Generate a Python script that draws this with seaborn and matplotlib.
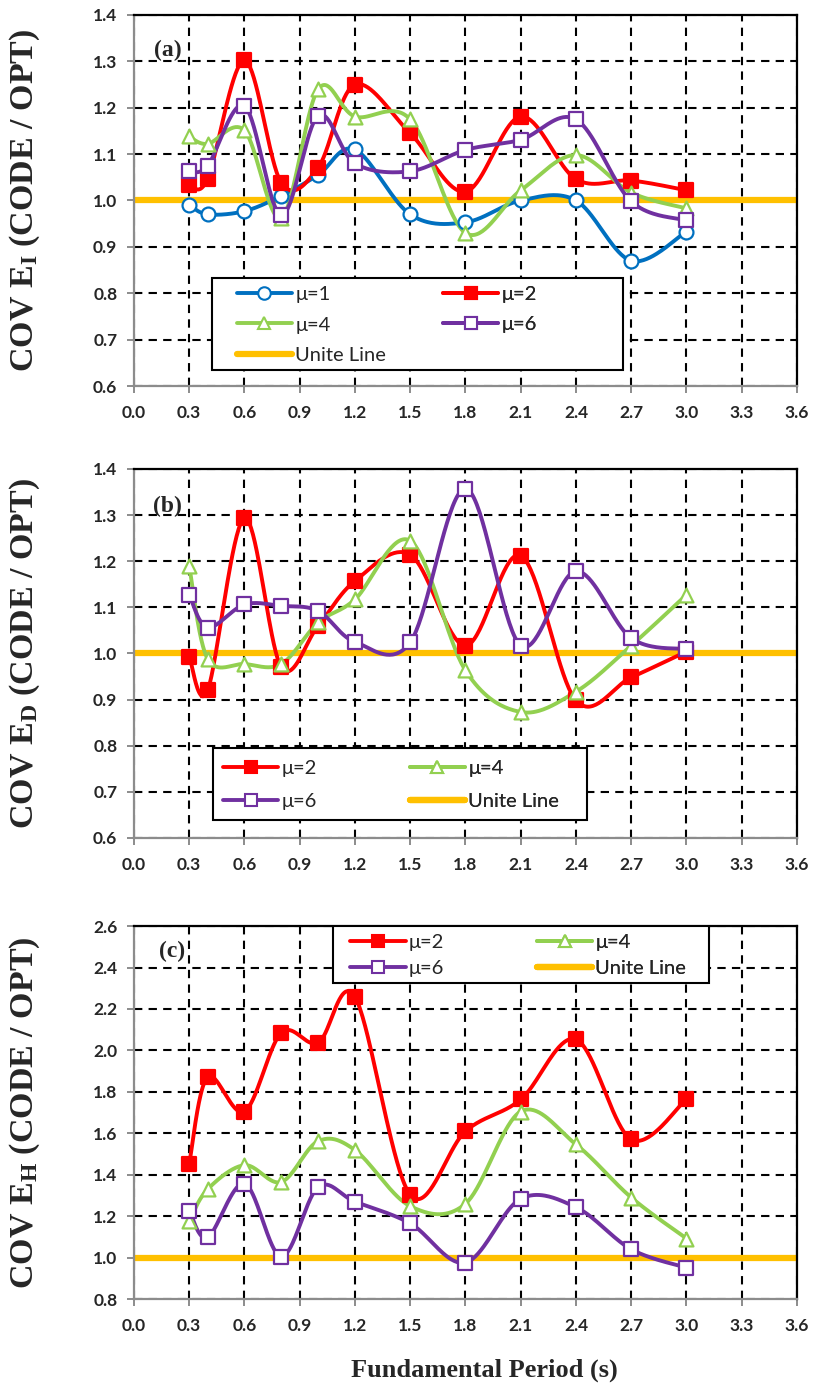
import numpy as np
import pandas as pd
import matplotlib
matplotlib.use("Agg")
import matplotlib.pyplot as plt
import seaborn as sns
from matplotlib.lines import Line2D
from matplotlib.patches import Rectangle

# fundamental period (s)
period = [0.3, 0.4, 0.6, 0.8, 1.0, 1.2, 1.5, 1.8, 2.1, 2.4, 2.7, 3.0]

# (a) COV E_I
ei_mu1 = [0.99, 0.97, 0.977, 1.01, 1.055, 1.11, 0.97, 0.953, 1.0, 1.0, 0.87, 0.933]
ei_mu2 = [1.034, 1.047, 1.302, 1.038, 1.071, 1.25, 1.145, 1.019, 1.181, 1.046, 1.043, 1.022]
ei_mu4 = [1.138, 1.122, 1.151, 0.962, 1.24, 1.181, 1.175, 0.93, 1.022, 1.098, 1.017, 0.983]
ei_mu6 = [1.063, 1.075, 1.204, 0.968, 1.183, 1.08, 1.063, 1.109, 1.131, 1.175, 0.998, 0.957]

# (b) COV E_D
ed_mu2 = [0.993, 0.92, 1.293, 0.97, 1.06, 1.157, 1.214, 1.017, 1.212, 0.898, 0.948, 1.004]
ed_mu4 = [1.189, 0.988, 0.977, 0.977, 1.067, 1.117, 1.244, 0.963, 0.873, 0.917, 1.017, 1.127]
ed_mu6 = [1.127, 1.056, 1.106, 1.103, 1.092, 1.025, 1.024, 1.357, 1.017, 1.178, 1.033, 1.009]

# (c) COV E_H
eh_mu2 = [1.454, 1.872, 1.705, 2.085, 2.037, 2.258, 1.303, 1.61, 1.763, 2.053, 1.57, 1.765]
eh_mu4 = [1.178, 1.33, 1.446, 1.365, 1.562, 1.519, 1.248, 1.26, 1.705, 1.546, 1.29, 1.092]
eh_mu6 = [1.227, 1.097, 1.357, 1.005, 1.34, 1.27, 1.165, 0.976, 1.284, 1.243, 1.04, 0.951]

unit_value = 1.0

x_ticks = [0.0, 0.3, 0.6, 0.9, 1.2, 1.5, 1.8, 2.1, 2.4, 2.7, 3.0, 3.3, 3.6]

styles = {
    "μ=1": dict(color="#0070C0", marker="o", face="white"),
    "μ=2": dict(color="#FF0000", marker="s", face="#FF0000"),
    "μ=4": dict(color="#92D050", marker="^", face="white"),
    "μ=6": dict(color="#7030A0", marker="s", face="white"),
}
unit_color = "#FFC000"

sns.set_style("white")
plt.rcParams["font.family"] = ["Lato", "DejaVu Sans"]
plt.rcParams["mathtext.fontset"] = "custom"
plt.rcParams["mathtext.rm"] = "Liberation Serif:bold"
plt.rcParams["mathtext.it"] = "Liberation Serif:bold"
plt.rcParams["mathtext.bf"] = "Liberation Serif:bold"

LEG_FS = 14.5


def smooth(x, y, n=40):
    # excel-like smoothed line (catmull-rom bezier)
    x = np.asarray(x, float)
    y = np.asarray(y, float)
    px = np.r_[x[0], x, x[-1]]
    py = np.r_[y[0], y, y[-1]]
    t = np.linspace(0, 1, n)
    xs, ys = [], []
    for i in range(1, len(px) - 2):
        p0 = np.array([px[i], py[i]])
        p3 = np.array([px[i + 1], py[i + 1]])
        c1 = p0 + (p3 - np.array([px[i - 1], py[i - 1]])) / 6
        c2 = p3 - (np.array([px[i + 2], py[i + 2]]) - p0) / 6
        b = ((1 - t) ** 3)[:, None] * p0 + (3 * (1 - t) ** 2 * t)[:, None] * c1 \
            + (3 * (1 - t) * t ** 2)[:, None] * c2 + (t ** 3)[:, None] * p3
        xs.extend(b[:, 0])
        ys.extend(b[:, 1])
    return pd.DataFrame({"x": xs, "y": ys})


def handle(name):
    if name == "Unite Line":
        return Line2D([], [], color=unit_color, lw=4.5, label=name)
    st = styles[name]
    return Line2D([], [], color=st["color"], lw=2.8, marker=st["marker"],
                  markersize=9, markerfacecolor=st["face"],
                  markeredgecolor=st["color"], markeredgewidth=1.5, label=name)


def add_legend(ax, box, columns, col_x, row1_y, row_frac, spacing):
    ax.add_patch(Rectangle((box[0], box[1]), box[2], box[3], transform=ax.transAxes,
                           facecolor="white", edgecolor="black", lw=1.5, zorder=6))
    for names, x in zip(columns, col_x):
        yc = row1_y - (len(names) - 1) / 2 * row_frac
        leg = ax.legend(handles=[handle(n) for n in names], loc="center left",
                        bbox_to_anchor=(x, yc), frameon=False, fontsize=LEG_FS,
                        handlelength=2.75, handletextpad=0.15, borderpad=0,
                        borderaxespad=0, labelspacing=spacing)
        leg.set_zorder(7)
        ax.add_artist(leg)


def draw_panel(ax, series, ylim, yticks, ylabel, tag, tag_pos):
    ax.set_xlim(0, 3.6)
    ax.set_ylim(*ylim)
    ax.set_xticks(x_ticks)
    ax.set_yticks(yticks)
    ax.set_xticklabels([f"{v:.1f}" for v in x_ticks])
    ax.set_yticklabels([f"{v:.1f}" for v in yticks])
    ax.grid(True, color="black", linestyle=(0, (4, 3)), linewidth=1.5)
    ax.set_axisbelow(True)

    ax.axhline(unit_value, color=unit_color, lw=4.5, zorder=2)
    for name, vals in series.items():
        st = styles[name]
        curve = smooth(period, vals)
        sns.lineplot(data=curve, x="x", y="y", ax=ax, color=st["color"], lw=2.8,
                     sort=False, estimator=None, zorder=3)
        sns.scatterplot(x=period, y=vals, ax=ax, marker=st["marker"], s=100,
                        facecolor=st["face"], edgecolor=st["color"], linewidth=1.6,
                        zorder=4)
    ax.set_xlabel("")
    ax.set_ylabel(ylabel, fontsize=24.5, family="Liberation Serif", fontweight="bold")
    ax.yaxis.set_label_coords(-0.139, 0.5)

    for side in ["left", "bottom"]:
        ax.spines[side].set_color("#8C8C8C")
        ax.spines[side].set_linewidth(1.6)
    for side in ["top", "right"]:
        ax.spines[side].set_color("black")
        ax.spines[side].set_linewidth(1.6)
    ax.tick_params(axis="both", which="major", direction="out", length=5, width=1.4,
                   color="#8C8C8C", labelsize=12.5, left=True, bottom=True)
    ax.tick_params(axis="x", pad=9)
    ax.tick_params(axis="y", pad=7)
    for lab in ax.get_xticklabels() + ax.get_yticklabels():
        lab.set_fontweight("bold")

    ax.text(tag_pos[0], tag_pos[1], tag, transform=ax.transAxes, fontsize=17,
            fontweight="bold", family="Liberation Serif", ha="center", va="center",
            zorder=8)


fig = plt.figure(figsize=(8.14, 13.88), dpi=100)
ax_a = fig.add_axes([0.1646, 0.7219, 0.8145, 0.2673])
ax_b = fig.add_axes([0.1646, 0.3963, 0.8145, 0.2659])
ax_c = fig.add_axes([0.1646, 0.0641, 0.8145, 0.2687])

draw_panel(ax_a, {"μ=1": ei_mu1, "μ=2": ei_mu2, "μ=4": ei_mu4, "μ=6": ei_mu6},
           (0.6, 1.4), np.round(np.arange(0.6, 1.41, 0.1), 1),
           r"COV E$_{\mathrm{I}}$ (CODE / OPT)", "(a)", (0.051, 0.905))
add_legend(ax_a, (0.118, 0.043, 0.620, 0.248),
           [["μ=1", "μ=4", "Unite Line"], ["μ=2", "μ=6"]],
           [0.155, 0.466], 0.248, 31 / 371, 0.65)

draw_panel(ax_b, {"μ=2": ed_mu2, "μ=4": ed_mu4, "μ=6": ed_mu6},
           (0.6, 1.4), np.round(np.arange(0.6, 1.41, 0.1), 1),
           r"COV E$_{\mathrm{D}}$ (CODE / OPT)", "(b)", (0.051, 0.897))
add_legend(ax_b, (0.119, 0.049, 0.564, 0.195),
           [["μ=2", "μ=6"], ["μ=4", "Unite Line"]],
           [0.134, 0.416], 0.190, 34 / 369, 0.8)

draw_panel(ax_c, {"μ=2": eh_mu2, "μ=4": eh_mu4, "μ=6": eh_mu6},
           (0.8, 2.6), np.round(np.arange(0.8, 2.61, 0.2), 1),
           r"COV E$_{\mathrm{H}}$ (CODE / OPT)", "(c)", (0.057, 0.933))
add_legend(ax_c, (0.300, 0.848, 0.567, 0.152),
           [["μ=2", "μ=6"], ["μ=4", "Unite Line"]],
           [0.326, 0.608], 0.957, 27 / 374, 0.45)

fig.text(0.595, 0.013, "Fundamental Period (s)", ha="center", va="center",
         fontsize=19, fontweight="bold", family="Liberation Serif")

fig.savefig("out.png", dpi=100)
